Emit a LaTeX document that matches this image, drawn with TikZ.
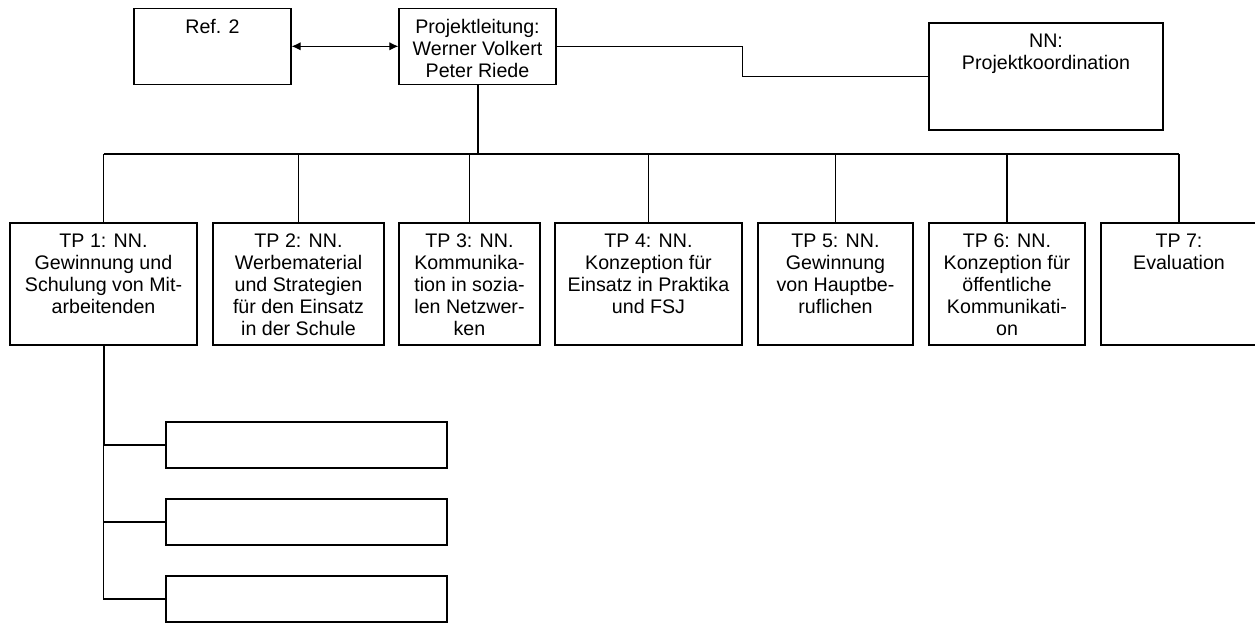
\documentclass[tikz,border=0pt]{standalone}
\usepackage{fontspec}
\setmainfont{Liberation Sans}
\usetikzlibrary{positioning,arrows.meta}
\begin{document}
\begin{tikzpicture}[x=0.55pt,y=-0.55pt,>={Latex[length=5pt,width=4.6pt]},line width=0.6pt,
 box/.style 2 args={draw,inner sep=0pt,minimum width=#1*0.55pt,minimum height=#2*0.55pt},
 txt/.style={anchor=north,inner sep=6pt,align=center,font=\fontsize{10.8}{12.05}\selectfont},
 trunk/.style={line width=1.1pt}]
 \useasboundingbox (0,0) rectangle (1255,623);
 % top row
 \node[box={157}{76}](ref) at (212.5,46.3){};
 \node[box={157}{76}](pl) at (477.5,46.3){};
 \node[box={234}{107}](koord) at (1046,76.5){};
 \node[txt](reftxt) at (ref.north){Ref. 2};
 \node[txt](pltxt) at (pl.north){Projektleitung:\\Werner Volkert\\Peter Riede};
 \node[txt](koordtxt) at (koord.north){NN:\\Projektkoordination};
 \draw[<->](ref.east) -- (pl.west);
 \draw(pl.east) -- ++(186,0) |- (koord.west);
 % subprojects
 \node[box={187}{122}](tp1) at (103.5,284){};
 \node[box={171}{122}](tp2) at (298.5,284){};
 \node[box={141}{122}](tp3) at (469.5,284){};
 \node[box={187}{122}](tp4) at (648.5,284){};
 \node[box={155}{122}](tp5) at (835.5,284){};
 \node[box={156}{122}](tp6) at (1007,284){};
 \node[box={156}{122}](tp7) at (1179,284){};
 \node[txt](tp1txt) at (tp1.north){TP 1: NN.\\Gewinnung und\\Schulung von Mit-\\arbeitenden};
 \node[txt](tp2txt) at (tp2.north){TP 2: NN.\\Werbematerial\\und Strategien\\für den Einsatz\\in der Schule};
 \node[txt](tp3txt) at (tp3.north){TP 3: NN.\\Kommunika-\\tion in sozia-\\len Netzwer-\\ken};
 \node[txt](tp4txt) at (tp4.north){TP 4: NN.\\Konzeption für\\Einsatz in Praktika\\und FSJ};
 \node[txt](tp5txt) at (tp5.north){TP 5: NN.\\Gewinnung\\von Hauptbe-\\ruflichen};
 \node[txt](tp6txt) at (tp6.north){TP 6: NN.\\Konzeption für\\öffentliche\\Kommunikati-\\on};
 \node[txt](tp7txt) at (tp7.north){TP 7:\\Evaluation};
 \coordinate(bus) at (477.5,154);
 \draw[trunk](pl.south) -- (bus);
 \draw(bus -| tp1.north) -- (bus -| tp7.north);
 \foreach \i in {1,...,7} \draw(bus -| tp\i.north) -- (tp\i.north);
 % work packages of TP 1
 \foreach \i/\y in {1/445,2/522,3/599}
  \node[box={281}{46}](sub\i) at (306.5,\y){};
 \draw(tp1.south) |- (sub2.west);
 \draw(tp1.south) |- (sub3.west);
 \draw[trunk](tp1.south) |- (sub1.west);
\end{tikzpicture}
\end{document}
